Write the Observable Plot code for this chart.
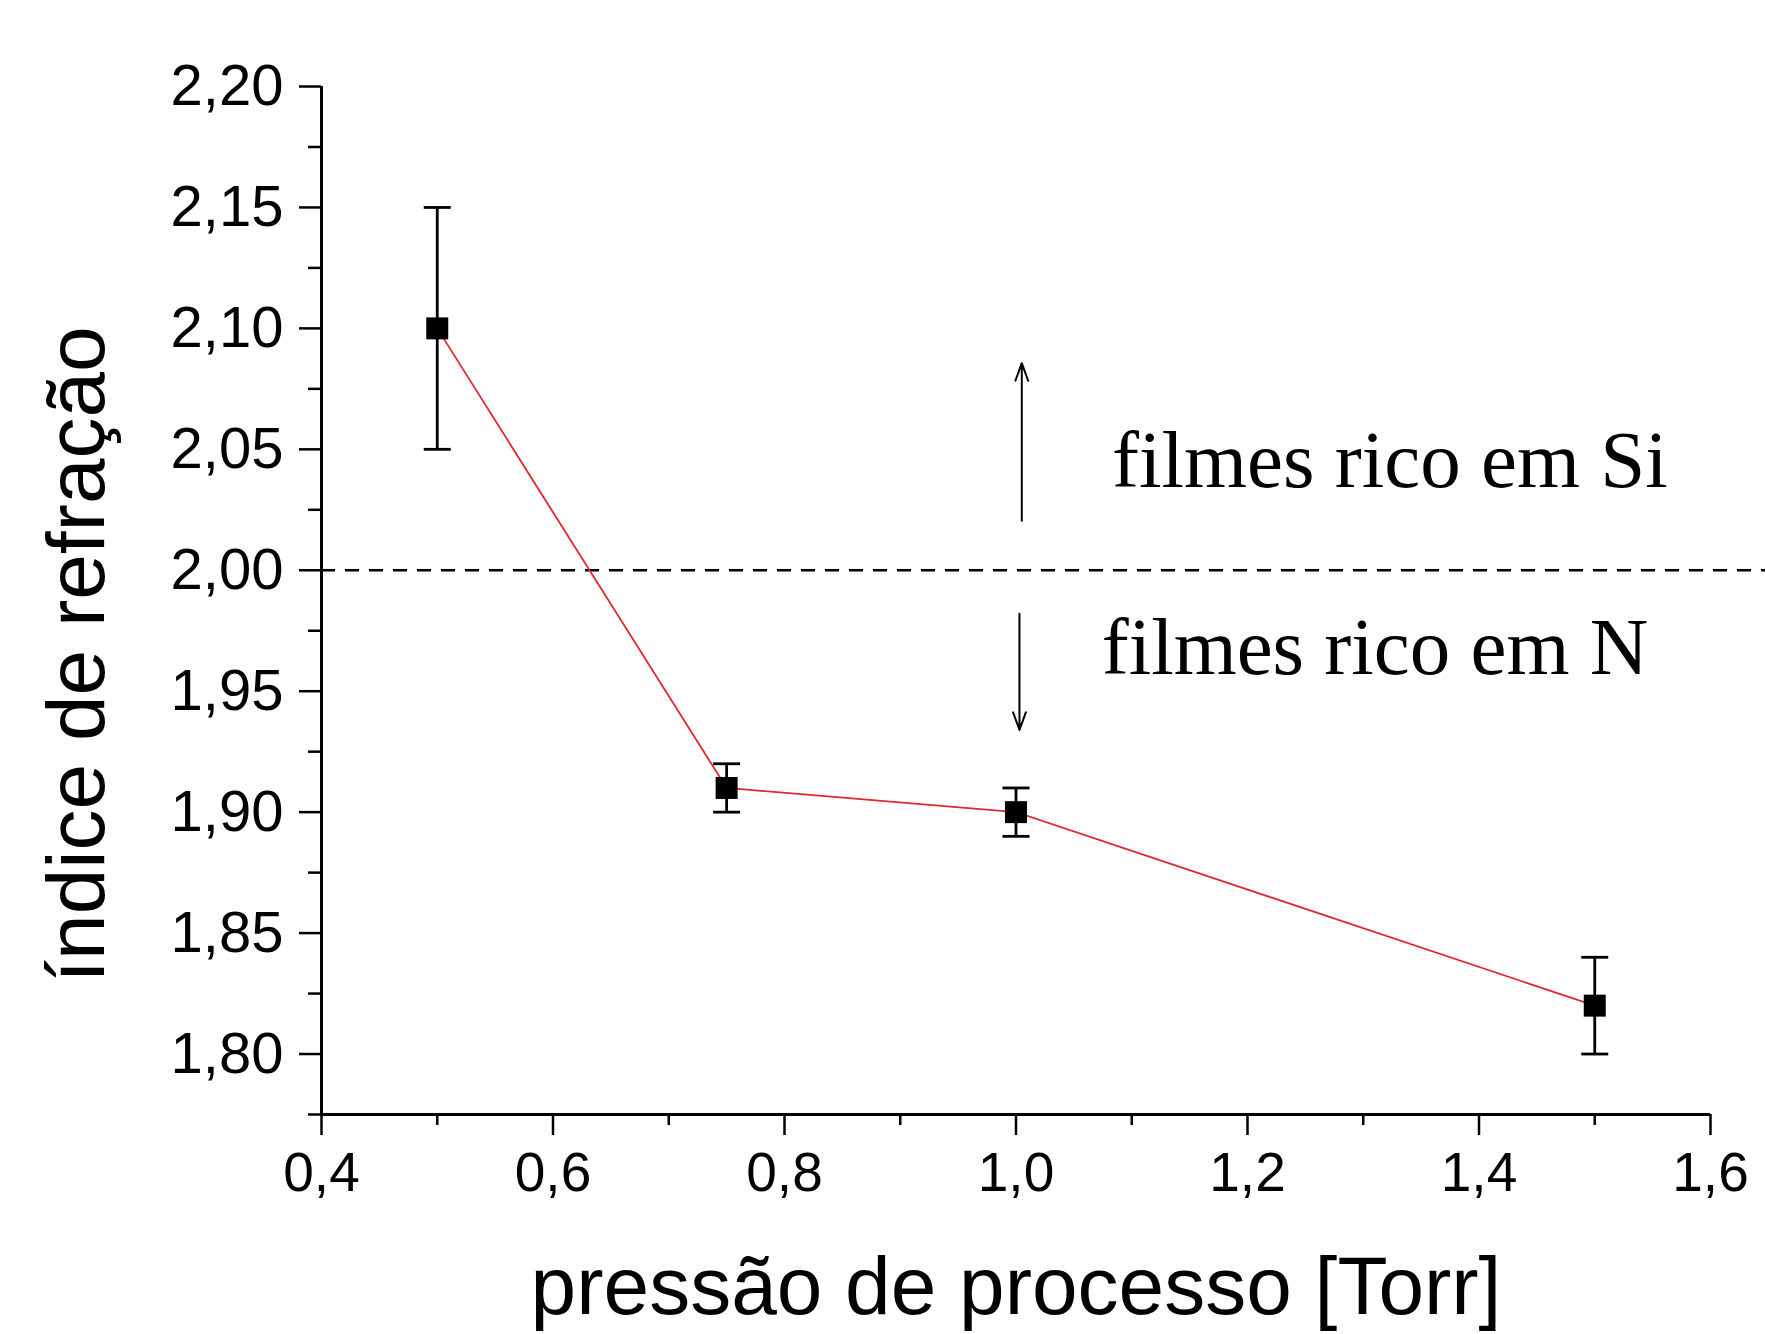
<!DOCTYPE html>
<html>
<head>
<meta charset="utf-8">
<script src="https://cdn.jsdelivr.net/npm/d3@7"></script>
<script src="https://cdn.jsdelivr.net/npm/@observablehq/plot@0.6"></script>
<style>
  html, body { margin: 0; padding: 0; background: #fff; }
  #chart svg { display: block; }
</style>
</head>
<body>
<div id="chart"></div>
<script>
// ---- data ----
const pressure = [0.5, 0.75, 1.0, 1.5];          // Torr
const refIndex = [2.10, 1.91, 1.90, 1.82];
const refError = [0.05, 0.01, 0.01, 0.02];

const xTicks = [0.4, 0.6, 0.8, 1.0, 1.2, 1.4, 1.6];
const xTickLabels = ["0,4", "0,6", "0,8", "1,0", "1,2", "1,4", "1,6"];
const xMinorTicks = [0.5, 0.7, 0.9, 1.1, 1.3, 1.5];
const yTicks = [1.80, 1.85, 1.90, 1.95, 2.00, 2.05, 2.10, 2.15, 2.20];
const yTickLabels = ["1,80", "1,85", "1,90", "1,95", "2,00", "2,05", "2,10", "2,15", "2,20"];
const yMinorTicks = [1.775, 1.825, 1.875, 1.925, 1.975, 2.025, 2.075, 2.125, 2.175];

const stoichLine = [2.00];
const annotations = [
  {label: "filmes rico em Si", x: 1.083, y: 2.045},
  {label: "filmes rico em N", x: 1.074, y: 1.968}
];
const arrows = [
  {x: 1.005, y1: 2.0205, y2: 2.0856},
  {x: 1.003, y1: 1.982, y2: 1.934}
];
const xTitle = "pressão de processo [Torr]";
const yTitle = "índice de refração";

// ---- build ----
const data = pressure.map((p, i) => ({x: p, y: refIndex[i], e: refError[i]}));
const capSymbol = {
  draw(ctx, size) {
    const w = Math.sqrt(size / Math.PI);
    ctx.moveTo(-w, 0);
    ctx.lineTo(w, 0);
  }
};
const sans = "'Liberation Sans', Arial, sans-serif";
const serif = "'Liberation Serif', 'Times New Roman', serif";
const blank = () => "";

const chart = Plot.plot({
  width: 1765,
  height: 1334,
  marginLeft: 321,
  marginRight: 55,
  marginTop: 86,
  marginBottom: 220,
  style: {fontFamily: sans, background: "#fff", color: "#000"},
  x: {domain: [0.4, 1.6]},
  y: {domain: [1.775, 2.20]},
  marks: [
    // minor ticks
    Plot.axisX({ticks: xMinorTicks, tickSize: 11, tickFormat: blank, label: null, strokeWidth: 2.5}),
    Plot.axisY({ticks: yMinorTicks, tickSize: 13, tickFormat: blank, label: null, strokeWidth: 2.5}),
    // major ticks
    Plot.axisX({
      ticks: xTicks, tickSize: 21, tickPadding: 16, label: null, strokeWidth: 2.5,
      fontSize: 55, tickFormat: d => xTickLabels[xTicks.indexOf(d)]
    }),
    Plot.axisY({
      ticks: yTicks, tickSize: 22, tickPadding: 16, label: null, strokeWidth: 2.5,
      fontSize: 58, tickFormat: d => yTickLabels[yTicks.indexOf(d)]
    }),
    // axis lines
    Plot.ruleX([0.4], {stroke: "#000", strokeWidth: 3}),
    Plot.ruleY([1.775], {stroke: "#000", strokeWidth: 3}),
    // dashed reference line (extends to the image edge)
    Plot.ruleY(stoichLine, {x1: 0.4, x2: 1.65, stroke: "#000", strokeWidth: 2.5, strokeDasharray: "14,10"}),
    // arrows
    Plot.arrow(arrows, {x1: "x", x2: "x", y1: "y1", y2: "y2", stroke: "#000", strokeWidth: 2, headLength: 14, headAngle: 40, bend: 0}),
    // annotations
    Plot.text(annotations, {x: "x", y: "y", text: "label", textAnchor: "start", lineAnchor: "middle", fontSize: 81, fontFamily: serif, fill: "#000"}),
    // connecting line
    Plot.line(data, {x: "x", y: "y", stroke: "#e0282e", strokeWidth: 1.8}),
    // error bars
    Plot.ruleX(data, {x: "x", y1: d => d.y - d.e, y2: d => d.y + d.e, stroke: "#000", strokeWidth: 2.8}),
    Plot.dot(data, {x: "x", y: d => d.y + d.e, symbol: capSymbol, r: 13.5, fill: "none", stroke: "#000", strokeWidth: 2.8}),
    Plot.dot(data, {x: "x", y: d => d.y - d.e, symbol: capSymbol, r: 13.5, fill: "none", stroke: "#000", strokeWidth: 2.8}),
    // markers
    Plot.dot(data, {x: "x", y: "y", symbol: "square", r: 12.4, fill: "#000", stroke: "none"}),
    // axis titles
    Plot.text([xTitle], {frameAnchor: "bottom", textAnchor: "middle", lineAnchor: "middle", dy: 173, fontSize: 82, fontFamily: sans, fill: "#000"}),
    Plot.text([yTitle], {frameAnchor: "left", textAnchor: "middle", lineAnchor: "middle", dx: -244, dy: 54, rotate: -90, fontSize: 82, fontFamily: sans, fill: "#000"})
  ]
});
document.getElementById("chart").appendChild(chart);
</script>
</body>
</html>
